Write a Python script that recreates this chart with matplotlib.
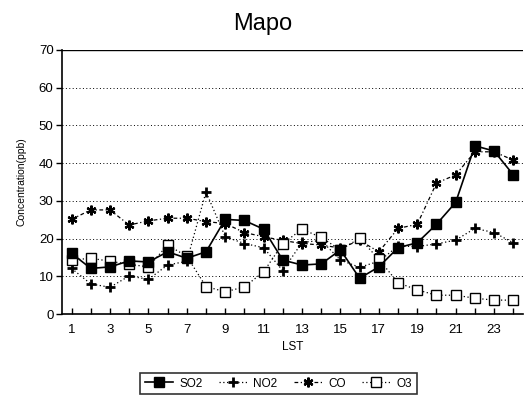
import matplotlib
matplotlib.use("Agg")
import matplotlib.pyplot as plt

plt.rcParams['font.family'] = ['Liberation Sans', 'DejaVu Sans']

hours = list(range(1, 25))
so2 = [16.1, 12.1, 12.5, 14.1, 13.8, 16.5, 14.8, 16.5, 25.1, 24.8, 22.5, 14.3,
       13.0, 13.3, 17.0, 9.5, 12.5, 17.6, 18.9, 23.8, 29.6, 44.6, 43.2, 36.9]
no2 = [12.1, 8.0, 7.1, 10.1, 9.2, 13.0, 14.0, 32.4, 20.5, 18.7, 17.6, 11.5,
       19.0, 19.5, 14.3, 12.4, 14.0, 18.0, 17.9, 18.6, 19.6, 22.7, 21.6, 18.9]
co = [25.1, 27.6, 27.6, 23.6, 24.7, 25.4, 25.4, 24.5, 24.0, 21.6, 20.5, 19.5,
      18.7, 18.3, 17.5, 19.5, 16.5, 22.7, 23.8, 34.7, 36.9, 43.0, 43.0, 40.8]
o3 = [14.3, 14.8, 14.0, 13.2, 12.5, 18.3, 15.3, 7.3, 5.9, 7.2, 11.2, 18.7,
      22.5, 20.3, 17.0, 20.1, 14.5, 8.3, 6.4, 5.0, 5.0, 4.2, 3.7, 3.7]
xticks = list(range(1, 24, 2))
yticks = list(range(0, 71, 10))

fig = plt.figure(figsize=(5.25, 4.16), dpi=100)
ax = fig.add_axes([0.118, 0.245, 0.878, 0.635])

ax.plot(hours, so2, color='black', lw=1.2, ls='-', marker='s', ms=6.5,
        mfc='black', mec='black', label='SO2', zorder=5)
ax.plot(hours, no2, color='black', lw=0.9, ls=(0, (1, 2)), marker='+', ms=7,
        mew=2, label='NO2', zorder=4)
ax.plot(hours, co, color='black', lw=0.9, ls=(0, (3, 2, 1, 2)), marker=(6, 2, 0), ms=7,
        mew=1.6, label='CO', zorder=4)
ax.plot(hours, o3, color='black', lw=0.9, ls=(0, (1, 2)), marker='s', ms=6.5,
        mfc='white', mec='black', mew=1.0, label='O3', zorder=4)

ax.set_xlim(0.5, 24.5)
ax.set_ylim(0, 70)
ax.set_xticks(hours, minor=False)
ax.set_xticklabels([str(h) if h in xticks else '' for h in hours], fontsize=9.5)
ax.set_yticks(yticks)
ax.set_yticklabels([str(v) for v in yticks], fontsize=9.5)
ax.tick_params(axis='x', direction='in', length=4, width=1, pad=7)
ax.tick_params(axis='y', direction='out', length=4, width=1, pad=2)

for v in yticks[1:-1]:
    ax.axhline(v, color='black', lw=0.7, ls=(0, (1, 2.5)), zorder=1)
ax.axhline(70, color='black', lw=1.0, zorder=1)

for s in ['top', 'right']:
    ax.spines[s].set_visible(False)
ax.spines['left'].set_linewidth(1.2)
ax.spines['bottom'].set_linewidth(1.2)

ax.set_xlabel('LST', fontsize=8.5, labelpad=4)
ax.set_ylabel('Concentration(ppb)', fontsize=7.5, labelpad=9)
fig.suptitle('Mapo', fontsize=17, x=0.5, y=0.968)

leg = ax.legend(loc='upper center', bbox_to_anchor=(0.47, -0.2), ncol=4,
                fontsize=8.5, frameon=True, fancybox=False, handlelength=2.4,
                columnspacing=1.4, handletextpad=0.5, borderpad=0.4)
leg.get_frame().set_edgecolor('black')
leg.get_frame().set_linewidth(1.2)

fig.savefig('out.png', dpi=100)
